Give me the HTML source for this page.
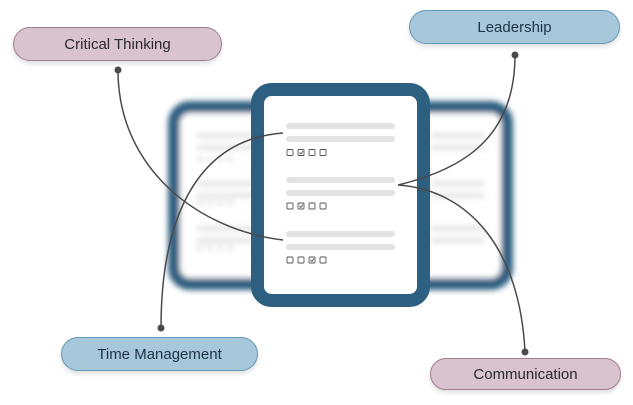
<!DOCTYPE html>
<html><head><style>
body{margin:0;width:633px;height:405px;background:#fff;position:relative;overflow:hidden;font-family:"Liberation Sans",sans-serif}
.pill{position:absolute;border-radius:17px;box-sizing:border-box;display:flex;align-items:center;justify-content:center;font-size:15px;box-shadow:0 3px 5px rgba(0,0,0,0.12)}
.m{background:#d8c3cf;border:1.5px solid #a27d92;color:#2a2a2a}
.b{background:#a7c7da;border:1.5px solid #6597b9;color:#1f3345}
</style></head><body>
<svg width="633" height="405" style="position:absolute;left:0;top:0">
<defs><filter id="bl"><feGaussianBlur stdDeviation="3"/></filter></defs>
<g filter="url(#bl)">
<rect x="174" y="107" width="333" height="177" rx="16" fill="#fff" stroke="#2d5f80" stroke-width="12"/>
<g fill="#e3e3e3">
<rect x="196" y="133" width="60" height="5" rx="2.5"/><rect x="196" y="145" width="60" height="5" rx="2.5"/>
<rect x="196" y="181" width="60" height="5" rx="2.5"/><rect x="196" y="193" width="60" height="5" rx="2.5"/>
<rect x="196" y="226" width="60" height="5" rx="2.5"/><rect x="196" y="238" width="60" height="5" rx="2.5"/>
<rect x="430" y="133" width="55" height="5" rx="2.5"/><rect x="430" y="145" width="55" height="5" rx="2.5"/>
<rect x="430" y="181" width="55" height="5" rx="2.5"/><rect x="430" y="193" width="55" height="5" rx="2.5"/>
<rect x="430" y="226" width="55" height="5" rx="2.5"/><rect x="430" y="238" width="55" height="5" rx="2.5"/>
<circle cx="200" cy="159" r="3"/><circle cx="210" cy="159" r="3"/><circle cx="220" cy="159" r="3"/><circle cx="230" cy="159" r="3"/>
<circle cx="200" cy="203" r="3"/><circle cx="210" cy="203" r="3"/><circle cx="220" cy="203" r="3"/><circle cx="230" cy="203" r="3"/>
<circle cx="200" cy="248" r="3"/><circle cx="210" cy="248" r="3"/><circle cx="220" cy="248" r="3"/><circle cx="230" cy="248" r="3"/>
</g></g>
<rect x="257.5" y="89.5" width="166" height="211" rx="14" fill="#fff" stroke="#2d5f80" stroke-width="13"/>
<g fill="#e3e3e3">
<rect x="286" y="123" width="109" height="6" rx="3"/><rect x="286" y="136" width="109" height="6" rx="3"/>
<rect x="286" y="177" width="109" height="6" rx="3"/><rect x="286" y="190" width="109" height="6" rx="3"/>
<rect x="286" y="231" width="109" height="6" rx="3"/><rect x="286" y="244" width="109" height="6" rx="3"/>
</g>
<g fill="none" stroke="#555" stroke-width="0.9">
<rect x="287" y="149.5" width="6" height="6" rx="1"/><rect x="298" y="149.5" width="6" height="6" rx="1"/><rect x="309" y="149.5" width="6" height="6" rx="1"/><rect x="320" y="149.5" width="6" height="6" rx="1"/>
<rect x="287" y="203" width="6" height="6" rx="1"/><rect x="298" y="203" width="6" height="6" rx="1"/><rect x="309" y="203" width="6" height="6" rx="1"/><rect x="320" y="203" width="6" height="6" rx="1"/>
<rect x="287" y="257" width="6" height="6" rx="1"/><rect x="298" y="257" width="6" height="6" rx="1"/><rect x="309" y="257" width="6" height="6" rx="1"/><rect x="320" y="257" width="6" height="6" rx="1"/>
<path d="M299.5 152.5l1.5 1.5 2-3M299.5 206l1.5 1.5 2-3M310.5 260l1.5 1.5 2-3"/>
</g>
<g fill="none" stroke="#4a4a4a" stroke-width="1.5">
<path d="M118 70 C118 170 200 230 283 240"/>
<path d="M161 328 C161 230 190 140 283 133"/>
<path d="M515 55 C515 140 460 170 398 185"/>
<path d="M398 185 C470 190 520 250 525 352"/>
</g>
<g fill="#4a4a4a"><circle cx="118" cy="70" r="3.5"/><circle cx="161" cy="328" r="3.5"/><circle cx="515" cy="55" r="3.5"/><circle cx="525" cy="352" r="3.5"/></g>
</svg>
<div class="pill m" style="left:13px;top:27px;width:209px;height:34px">Critical Thinking</div>
<div class="pill b" style="left:409px;top:10px;width:211px;height:34px">Leadership</div>
<div class="pill b" style="left:61px;top:337px;width:197px;height:34px">Time Management</div>
<div class="pill m" style="left:430px;top:358px;width:191px;height:32px">Communication</div>
</body></html>
